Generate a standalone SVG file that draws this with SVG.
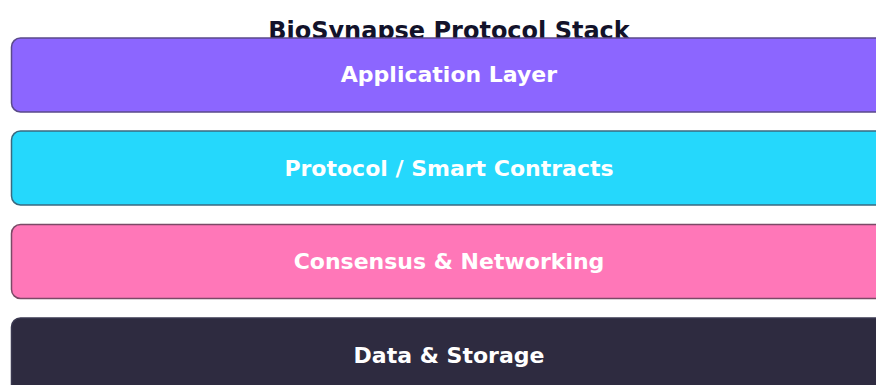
<svg xmlns="http://www.w3.org/2000/svg" width="876" height="385" viewBox="0 0 876 385">
<style>
.t{font-family:"DejaVu Sans","Liberation Sans",sans-serif;font-weight:bold;}
.lbl{fill:#ffffff;font-size:22px;text-anchor:middle;}
.box{stroke-width:1.5;}
</style>
<rect width="876" height="385" fill="#ffffff"/>
<text class="t" x="449" y="38.5" font-size="24" text-anchor="middle" fill="#12122a">BioSynapse Protocol Stack</text>
<g id="application">
<rect class="box" x="11.5" y="38" width="880" height="74" rx="9" fill="#8c66ff" stroke="#5a4a8a"/>
<text class="t lbl" x="449" y="82">Application Layer</text>
</g>
<g id="protocol">
<rect class="box" x="11.5" y="131" width="880" height="74" rx="9" fill="#25d8fc" stroke="#3a6a80"/>
<text class="t lbl" x="449" y="175.5">Protocol / Smart Contracts</text>
</g>
<g id="consensus">
<rect class="box" x="11.5" y="224.5" width="880" height="74" rx="9" fill="#ff77b8" stroke="#7a4a66"/>
<text class="t lbl" x="449" y="269">Consensus &amp; Networking</text>
</g>
<g id="data">
<rect class="box" x="11.5" y="318" width="880" height="80" rx="9" fill="#2e2b40" stroke="#3a3850"/>
<text class="t lbl" x="449" y="362.5">Data &amp; Storage</text>
</g>
<g id="connectors"/>
</svg>
